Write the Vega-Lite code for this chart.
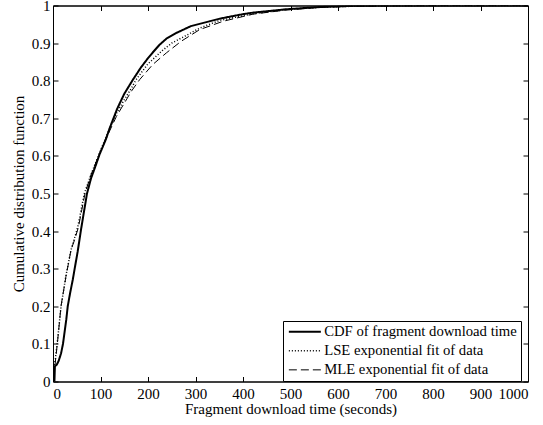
{
  "$schema": "https://vega.github.io/schema/vega-lite/v6.json",
  "width": 475,
  "height": 376,
  "autosize": {"type": "none"},
  "padding": {"left": 53, "top": 5.5, "right": 15, "bottom": 43.5},
  "background": "white",
  "config": {
    "font": "Liberation Serif",
    "view": {"stroke": "black", "strokeWidth": 1},
    "axis": {"domainColor": "black", "tickColor": "black", "labelColor": "black", "titleColor": "black", "grid": false, "labelFont": "Liberation Serif", "titleFont": "Liberation Serif", "labelFontSize": 15, "titleFontSize": 15, "titleFontWeight": "normal", "tickSize": -5}
  },
  "data": {"values": [
    {"s":"CDF of fragment download time","t":0,"p":0},{"s":"CDF of fragment download time","t":3,"p":0},{"s":"CDF of fragment download time","t":4,"p":0.04},{"s":"CDF of fragment download time","t":8,"p":0.045},{"s":"CDF of fragment download time","t":12,"p":0.055},{"s":"CDF of fragment download time","t":17,"p":0.075},{"s":"CDF of fragment download time","t":21,"p":0.1},{"s":"CDF of fragment download time","t":24,"p":0.128},{"s":"CDF of fragment download time","t":28,"p":0.165},{"s":"CDF of fragment download time","t":31,"p":0.2},{"s":"CDF of fragment download time","t":36,"p":0.235},{"s":"CDF of fragment download time","t":41.5,"p":0.27},{"s":"CDF of fragment download time","t":47,"p":0.31},{"s":"CDF of fragment download time","t":52,"p":0.346},{"s":"CDF of fragment download time","t":59,"p":0.404},{"s":"CDF of fragment download time","t":65,"p":0.45},{"s":"CDF of fragment download time","t":71.6,"p":0.5},{"s":"CDF of fragment download time","t":80,"p":0.54},{"s":"CDF of fragment download time","t":90,"p":0.575},{"s":"CDF of fragment download time","t":97.7,"p":0.603},{"s":"CDF of fragment download time","t":111.6,"p":0.645},{"s":"CDF of fragment download time","t":119.4,"p":0.674},{"s":"CDF of fragment download time","t":135,"p":0.725},{"s":"CDF of fragment download time","t":150,"p":0.765},{"s":"CDF of fragment download time","t":168.4,"p":0.803},{"s":"CDF of fragment download time","t":185,"p":0.835},{"s":"CDF of fragment download time","t":200,"p":0.86},{"s":"CDF of fragment download time","t":212,"p":0.878},{"s":"CDF of fragment download time","t":224.6,"p":0.896},{"s":"CDF of fragment download time","t":240,"p":0.913},{"s":"CDF of fragment download time","t":259.8,"p":0.927},{"s":"CDF of fragment download time","t":290,"p":0.945},{"s":"CDF of fragment download time","t":329.9,"p":0.958},{"s":"CDF of fragment download time","t":351,"p":0.965},{"s":"CDF of fragment download time","t":400,"p":0.977},{"s":"CDF of fragment download time","t":421,"p":0.981},{"s":"CDF of fragment download time","t":491,"p":0.99},{"s":"CDF of fragment download time","t":561,"p":0.996},{"s":"CDF of fragment download time","t":631,"p":0.999},{"s":"CDF of fragment download time","t":700,"p":1},{"s":"CDF of fragment download time","t":1000,"p":1},
    {"s":"LSE exponential fit of data","t":0,"p":0.02},{"s":"LSE exponential fit of data","t":5,"p":0.06},{"s":"LSE exponential fit of data","t":10,"p":0.115},{"s":"LSE exponential fit of data","t":17,"p":0.2},{"s":"LSE exponential fit of data","t":27,"p":0.28},{"s":"LSE exponential fit of data","t":38,"p":0.35},{"s":"LSE exponential fit of data","t":52,"p":0.41},{"s":"LSE exponential fit of data","t":66,"p":0.5},{"s":"LSE exponential fit of data","t":80,"p":0.55},{"s":"LSE exponential fit of data","t":97,"p":0.605},{"s":"LSE exponential fit of data","t":115,"p":0.66},{"s":"LSE exponential fit of data","t":130,"p":0.705},{"s":"LSE exponential fit of data","t":148,"p":0.745},{"s":"LSE exponential fit of data","t":165,"p":0.78},{"s":"LSE exponential fit of data","t":175,"p":0.803},{"s":"LSE exponential fit of data","t":200,"p":0.845},{"s":"LSE exponential fit of data","t":230,"p":0.88},{"s":"LSE exponential fit of data","t":250,"p":0.9},{"s":"LSE exponential fit of data","t":280,"p":0.92},{"s":"LSE exponential fit of data","t":309,"p":0.94},{"s":"LSE exponential fit of data","t":350,"p":0.96},{"s":"LSE exponential fit of data","t":421,"p":0.978},{"s":"LSE exponential fit of data","t":491,"p":0.989},{"s":"LSE exponential fit of data","t":561,"p":0.995},{"s":"LSE exponential fit of data","t":631,"p":0.998},{"s":"LSE exponential fit of data","t":700,"p":0.999},{"s":"LSE exponential fit of data","t":800,"p":1},{"s":"LSE exponential fit of data","t":1000,"p":1},
    {"s":"MLE exponential fit of data","t":0,"p":0.01},{"s":"MLE exponential fit of data","t":4.2,"p":0.044},{"s":"MLE exponential fit of data","t":9.9,"p":0.11},{"s":"MLE exponential fit of data","t":16.8,"p":0.2},{"s":"MLE exponential fit of data","t":27.4,"p":0.28},{"s":"MLE exponential fit of data","t":37.9,"p":0.35},{"s":"MLE exponential fit of data","t":45,"p":0.375},{"s":"MLE exponential fit of data","t":53.5,"p":0.41},{"s":"MLE exponential fit of data","t":67.4,"p":0.5},{"s":"MLE exponential fit of data","t":80,"p":0.55},{"s":"MLE exponential fit of data","t":97,"p":0.603},{"s":"MLE exponential fit of data","t":115,"p":0.655},{"s":"MLE exponential fit of data","t":133.5,"p":0.705},{"s":"MLE exponential fit of data","t":150,"p":0.74},{"s":"MLE exponential fit of data","t":165,"p":0.772},{"s":"MLE exponential fit of data","t":182.5,"p":0.803},{"s":"MLE exponential fit of data","t":210,"p":0.843},{"s":"MLE exponential fit of data","t":238.7,"p":0.874},{"s":"MLE exponential fit of data","t":270,"p":0.905},{"s":"MLE exponential fit of data","t":309,"p":0.936},{"s":"MLE exponential fit of data","t":358,"p":0.958},{"s":"MLE exponential fit of data","t":421,"p":0.977},{"s":"MLE exponential fit of data","t":491,"p":0.988},{"s":"MLE exponential fit of data","t":561,"p":0.995},{"s":"MLE exponential fit of data","t":631,"p":0.998},{"s":"MLE exponential fit of data","t":700,"p":0.999},{"s":"MLE exponential fit of data","t":800,"p":1},{"s":"MLE exponential fit of data","t":1000,"p":1}
  ]},
  "layer": [
    {
      "mark": {"type": "line", "color": "black", "clip": true},
      "encoding": {
        "x": {"field": "t", "type": "quantitative", "scale": {"domain": [0, 1000], "nice": false}, "axis": {"title": "Fragment download time (seconds)", "values": [0,100,200,300,400,500,600,700,800,900,1000], "labelPadding": 10, "titlePadding": 0, "format": "d", "labelFontSize": 15, "titleFontSize": 15}},
        "y": {"field": "p", "type": "quantitative", "scale": {"domain": [0, 1], "nice": false}, "axis": {"title": "Cumulative distribution function", "values": [0,0.1,0.2,0.3,0.4,0.5,0.6,0.7,0.8,0.9,1], "format": "~f", "labelPadding": 8, "titlePadding": 5, "labelFontSize": 15, "titleFontSize": 15}},
        "order": {"field": "t", "type": "quantitative"},
        "strokeDash": {"field": "s", "type": "nominal", "scale": {"domain": ["CDF of fragment download time", "LSE exponential fit of data", "MLE exponential fit of data"], "range": [[1,0], [1,2], [8,4]]}, "legend": {"title": null, "orient": "none", "legendX": 230, "legendY": 315.5, "strokeColor": "black", "fillColor": "white", "padding": 3.5, "symbolType": "M-1,0H5.4", "symbolSize": 100, "symbolStrokeColor": "black", "labelFontSize": 14.7, "labelFont": "Liberation Serif", "labelColor": "black", "labelLimit": 400, "rowPadding": 3, "labelOffset": 23, "cornerRadius": 0}},
        "strokeWidth": {"field": "s", "type": "nominal", "scale": {"domain": ["CDF of fragment download time", "LSE exponential fit of data", "MLE exponential fit of data"], "range": [2, 1, 2]}, "legend": null}
      }
    },
    {
      "mark": {"type": "line", "opacity": 0},
      "encoding": {
        "x": {"field": "t", "type": "quantitative", "axis": {"orient": "top", "labels": false, "title": null, "values": [0,100,200,300,400,500,600,700,800,900,1000]}},
        "y": {"field": "p", "type": "quantitative", "axis": {"orient": "right", "labels": false, "title": null, "values": [0,0.1,0.2,0.3,0.4,0.5,0.6,0.7,0.8,0.9,1]}}
      }
    }
  ],
  "resolve": {"axis": {"x": "independent", "y": "independent"}}
}
